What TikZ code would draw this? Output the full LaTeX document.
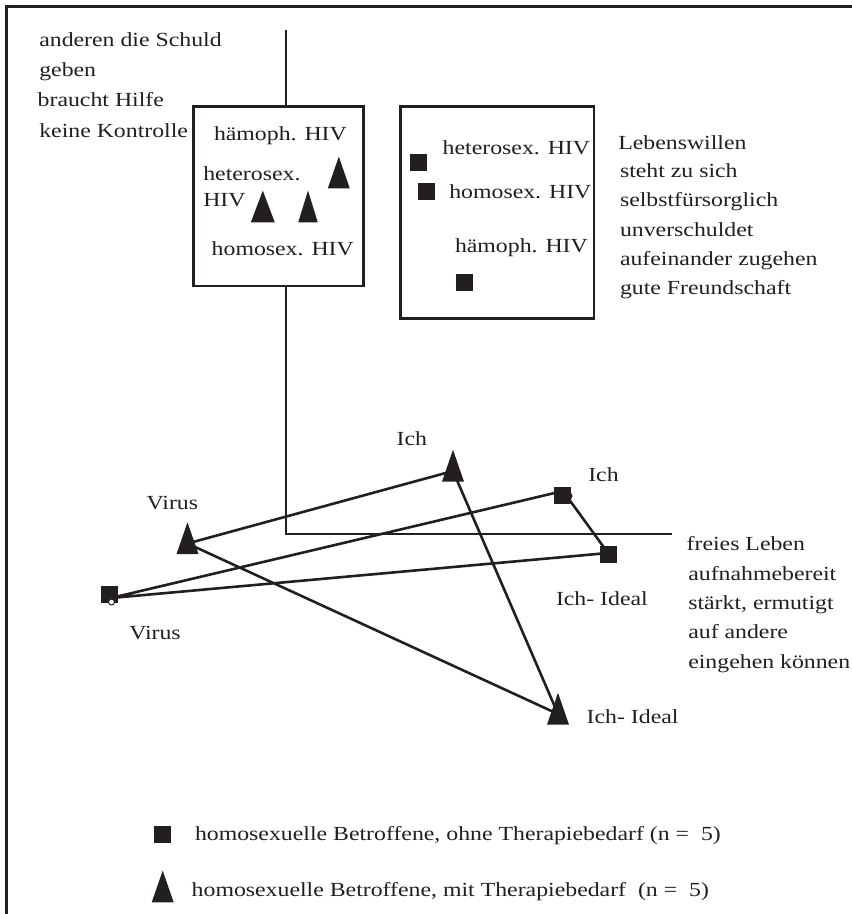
\documentclass[tikz,border=0pt]{standalone}
\usepackage{fontspec}
\setmainfont{Liberation Serif}[FakeStretch=1.19]
\definecolor{ink}{RGB}{35,31,32}
\begin{document}
\begin{tikzpicture}[x=1pt,y=-1pt,
  inkline/.style={draw=ink,line width=2.6pt},
  outerframe/.style={draw=ink,line width=3pt},
  panel/.style={draw=ink,line width=2.8pt,fill=white,inner sep=0pt,outer sep=0pt,anchor=north west},
  txt/.style={anchor=base west,inner sep=0pt,outer sep=0pt,text=ink,font=\fontsize{20}{24}\selectfont},
  sq/.style={fill=ink,inner sep=0pt,outer sep=0pt,minimum size=16.5pt},
  tri/.pic={\fill[ink] (0,-21.2) -- (11,10.6) -- (-11,10.6) -- cycle;}]
\useasboundingbox (0,0) rectangle (852,914);

% outer frame (top and left edges)
\draw[outerframe] (6,914) -- (6,6) -- (852,6);

% axes
\coordinate (axtop) at (286,30);
\coordinate (origin) at (286,534);
\coordinate (axend) at (671.7,534);
\draw[inkline] (axtop) -- (origin) -- (axend);

% the two group boxes
\node[panel,minimum width=170pt,minimum height=179.3pt] (leftbox) at (193.3,106.7) {};
\node[panel,minimum width=193.3pt,minimum height=211.6pt] (rightbox) at (400.7,106.7) {};

% pole texts
\node[txt] (ul1) at (39.3,46.7) {anderen die Schuld};
\node[txt] (ul2) at (39.3,76.7) {geben};
\node[txt] (ul3) at (37.7,106.7) {braucht Hilfe};
\node[txt] (ul4) at (39.3,137.3) {keine Kontrolle};

\node[txt] (ur1) at (618.3,149.3) {Lebenswillen};
\node[txt] (ur2) at (620,177.3) {steht zu sich};
\node[txt] (ur3) at (620,206.7) {selbstfürsorglich};
\node[txt] (ur4) at (620,236.7) {unverschuldet};
\node[txt] (ur5) at (620,265.7) {aufeinander zugehen};
\node[txt] (ur6) at (620,294) {gute Freundschaft};

\node[txt] (lr1) at (686.7,550.7) {freies Leben};
\node[txt] (lr2) at (688.3,580) {aufnahmebereit};
\node[txt] (lr3) at (688.3,609.3) {stärkt, ermutigt};
\node[txt] (lr4) at (688.3,638.3) {auf andere};
\node[txt] (lr5) at (688.3,668.3) {eingehen können};

% box contents
\node[txt] (lb1) at (214,140) {hämoph. HIV};
\node[txt] (lb2) at (203.3,180) {heterosex.};
\node[txt] (lb3) at (203.3,206.7) {HIV};
\node[txt] (lb4) at (211.7,255) {homosex. HIV};

\node[txt] (rb1) at (442.7,154) {heterosex. HIV};
\node[txt] (rb2) at (449.3,198.3) {homosex. HIV};
\node[txt] (rb3) at (455,252.3) {hämoph. HIV};

\coordinate (lbt1) at (338.8,177.8);
\coordinate (lbt2) at (262.8,211.8);
\coordinate (lbt3) at (308,211.8);
\pic at (lbt1) {tri};
\pic[xscale=1.09] at (lbt2) {tri};
\pic[xscale=0.89] at (lbt3) {tri};

\node[sq] (rbs1) at (418.3,162.7) {};
\node[sq] (rbs2) at (426.5,191.7) {};
\node[sq] (rbs3) at (464.3,282.7) {};

% point labels
\node[txt] (ichTl) at (396.7,445) {Ich};
\node[txt] (ichSl) at (588.3,481.7) {Ich};
\node[txt] (virTl) at (146.7,509) {Virus};
\node[txt] (virSl) at (129.3,639.3) {Virus};
\node[txt] (idSl) at (556,605) {Ich- Ideal};
\node[txt] (idTl) at (586.7,723.5) {Ich- Ideal};

% group with therapy need (triangles)
\coordinate (virT) at (187.5,543.5);
\coordinate (ichT) at (453,471);
\coordinate (idT) at (558,714);
\draw[inkline] (virT) -- (ichT) -- (idT) -- (virT);
\pic at (virT) {tri};
\pic at (ichT) {tri};
\pic at (idT) {tri};

% group without therapy need (squares)
\coordinate (virP) at (111,598);
\coordinate (ichP) at (563,491);
\coordinate (idP) at (608,553);
\draw[inkline] (virP) -- (ichP) -- (idP) -- (virP);
\node[sq,minimum size=17pt] (virS) at (109.3,594.3) {};
\node[circle,fill=ink,inner sep=0pt,minimum size=11pt] (ichSb) at (567,496) {};
\node[sq] (ichS) at (562.5,495.5) {};
\node[sq] (idS) at (608.5,554.7) {};
\node[circle,draw=ink,fill=white,line width=1pt,inner sep=0pt,minimum size=6pt] (virSr) at (111.5,602) {};

% legend
\node[sq,minimum size=17pt] (legS) at (162.3,834.3) {};
\node[txt] (legSt) at (195,840) {homosexuelle Betroffene, ohne Therapiebedarf (n =\ \ 5)};
\coordinate (legT) at (162.7,891.8);
\pic at (legT) {tri};
\node[txt] (legTt) at (191.7,896.7) {homosexuelle Betroffene, mit Therapiebedarf\ \ (n =\ \ 5)};
\end{tikzpicture}
\end{document}
